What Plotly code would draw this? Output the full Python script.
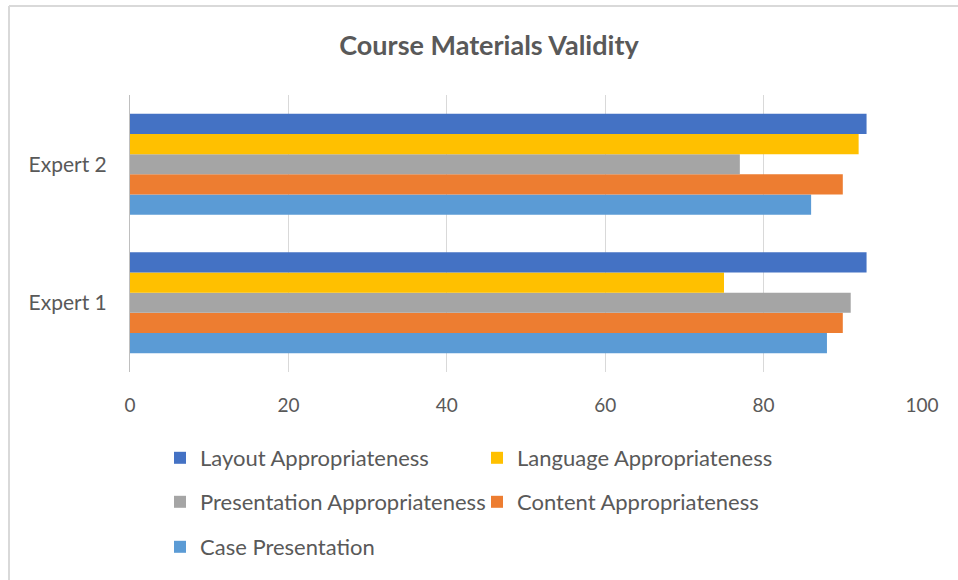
import plotly.graph_objects as go

categories = ["Expert 1", "Expert 2"]
series_names = ["Case Presentation", "Content Appropriateness", "Presentation Appropriateness",
                "Language Appropriateness", "Layout Appropriateness"]
case_presentation = [88, 86]
content_approp = [90, 90]
presentation_approp = [91, 77]
language_approp = [75, 92]
layout_approp = [93, 93]
x_ticks = [0, 20, 40, 60, 80, 100]

colors = {
    "Layout Appropriateness": "#4472C4",
    "Language Appropriateness": "#FFC000",
    "Presentation Appropriateness": "#A5A5A5",
    "Content Appropriateness": "#ED7D31",
    "Case Presentation": "#5B9BD5",
}
legend_of = {
    "Layout Appropriateness": "legend",
    "Language Appropriateness": "legend",
    "Presentation Appropriateness": "legend2",
    "Content Appropriateness": "legend2",
    "Case Presentation": "legend3",
}
values = [case_presentation, content_approp, presentation_approp, language_approp, layout_approp]

W, H = 958, 580
L, R, T, B = 130, 36, 95, 208
pw, ph = W - L - R, H - T - B

fig = go.Figure()
for name, vals in zip(series_names, values):
    fig.add_trace(go.Bar(
        y=categories, x=vals, name=name, orientation="h",
        marker=dict(color=colors[name], line=dict(width=0)),
        legend=legend_of[name],
    ))

font_family = "Lato, 'Open Sans', sans-serif"
txt = "#595959"

def px_x(p):
    return (p - L) / pw

def px_y(p):
    return (H - B - p) / ph

legend_common = dict(orientation="h", font=dict(family=font_family, size=22, color=txt),
                     entrywidth=272, entrywidthmode="pixels", traceorder="reversed",
                     xanchor="left", yanchor="middle", bgcolor="rgba(0,0,0,0)",
                     itemwidth=30)

fig.update_layout(
    width=W, height=H,
    margin=dict(l=L, r=R, t=T, b=B),
    paper_bgcolor="white", plot_bgcolor="white",
    barmode="group", bargap=0.27, bargroupgap=0,
    title=dict(text="<b>Course Materials Validity</b>", x=px_x(489), xref="paper", xanchor="center",
               y=1 - 46 / H, yanchor="middle",
               font=dict(family=font_family, size=27, color=txt)),
    xaxis=dict(range=[0, 100], tickvals=x_ticks, showgrid=True, gridcolor="#D9D9D9", gridwidth=1,
               zeroline=False, showline=False, ticks="", ticklabelstandoff=20,
               tickfont=dict(family=font_family, size=19, color=txt)),
    yaxis=dict(categoryorder="array", categoryarray=categories, range=[-0.5, 1.5],
               showline=True, linecolor="#BFBFBF", linewidth=1, showgrid=False, ticks="",
               ticklabelstandoff=18,
               tickfont=dict(family=font_family, size=21, color=txt)),
    legend=dict(x=px_x(160), y=px_y(458), **legend_common),
    legend2=dict(x=px_x(160), y=px_y(502), **legend_common),
    legend3=dict(x=px_x(160), y=px_y(547), **legend_common),
    showlegend=True,
)

fig.add_shape(type="line", xref="paper", yref="paper", x0=px_x(9), x1=px_x(958), y0=px_y(6), y1=px_y(6),
              line=dict(color="#D9D9D9", width=2))
fig.add_shape(type="line", xref="paper", yref="paper", x0=px_x(9), x1=px_x(9), y0=px_y(6), y1=px_y(580),
              line=dict(color="#D9D9D9", width=2))

fig.write_html("out.html", config={"displayModeBar": False},
               post_script="document.body.style.margin='0';document.body.style.padding='0';")
